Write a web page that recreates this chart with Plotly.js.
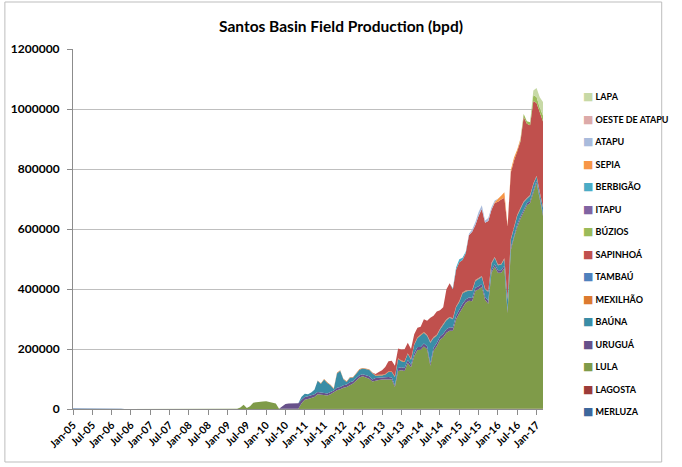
<!DOCTYPE html>
<html>
<head>
<meta charset="utf-8">
<script src="https://cdn.plot.ly/plotly-3.0.1.min.js"></script>
<style>
  body { margin: 0; background: #fff; }
  #chart { width: 682px; height: 467px; }
</style>
</head>
<body>
<div id="chart"></div>
<script>
// Month categories Jan-05 .. Mar-17
const monthNames = ['Jan','Feb','Mar','Apr','May','Jun','Jul','Aug','Sep','Oct','Nov','Dec'];
const yearCodes = ['05','06','07','08','09','10','11','12','13','14','15','16','17'];
const lastMonth = 'Mar-17';

const tickLabels = ['Jan-05','Jul-05','Jan-06','Jul-06','Jan-07','Jul-07','Jan-08','Jul-08',
    'Jan-09','Jul-09','Jan-10','Jul-10','Jan-11','Jul-11','Jan-12','Jul-12','Jan-13','Jul-13',
    'Jan-14','Jul-14','Jan-15','Jul-15','Jan-16','Jul-16','Jan-17'];

// Production per field, thousand bpd, monthly from the start month given
const merluzaStart = 'Jan-05';
const merluza = [1.8,1.9,2.0,1.9,1.8,2.1,2.0,1.9,1.7,1.8,1.6,1.5,1.4,1.5,1.3,1.2];

const lagostaStart = 'Jan-09';
const lagosta = [
    0.6,0.7,0.8,0.9,1.0,1.1,1.0,0.9,1.0,1.1,1.2,1.1,
    1.0,1.1,1.2,1.1,1.0,0.9,1.0,1.1,1.2,1.1,1.0,1.0,
    1.1,1.2,1.1,1.0,0.9,1.0,1.1,1.0,0.9,1.0,1.1,1.2,
    1.1,1.0,1.0,0.9,1.0,1.1,1.0,0.9,0.9,1.0,1.1,1.0,
    1.0,0.9,1.0,1.1,1.0,0.9,0.9,1.0,1.0,1.1,1.0,0.9,
    0.9,1.0,1.0,0.9,0.8,0.9,1.0,1.0,0.9,0.9,1.0,1.0,
    0.9,0.9,1.0,1.0,0.9,0.8,0.9,1.0,0.9,0.9,0.8,0.9,
    0.9,0.8,0.8,0.9,0.9,0.8,0.9,0.9,0.8,0.8,0.9,0.8,
    0.8,0.8,0.7];

const lulaStart = 'May-09';
const lula = [
    4,13,2,8,20,22,24,24,25,23,21,17,
    0,0,0,0,0,0,0,
    18,30,32,36,39,48,46,45,44,48,55,61,65,
    70,72,78,84,94,104,108,104,100,91,94,96,
    97,97,97,97,72,126,128,126,152,138,175,196,
    197,207,198,143,193,208,230,238,253,260,260,298,
    318,338,353,360,358,393,398,406,363,350,453,473,
    453,453,468,318,528,570,606,633,658,678,686,718,
    753,698,643];

const uruguaStart = 'Jun-10';
const urugua = [
    8,16,17,17,18,18,
    12,9,9,9,9,8,8,7,7,8,6,9,7,
    8,9,10,8,8,7,7,8,8,6,8,7,
    7,7,9,7,6,10,10,10,10,8,10,10,
    9,10,10,9,10,11,11,12,12,12,11,12,
    12,12,11,11,11,10,10,10,10,10,9,9,
    9,9,9,8,9,9,8,8,8,7,7,8,
    7,7,7];

const baunaStart = 'Dec-10';
const bauna = [
    10,11,7,9,15,37,29,45,35,22,5,47,54,
    20,8,15,12,16,19,19,20,22,21,8,8,
    7,10,16,18,28,30,20,20,21,17,28,30,
    40,36,35,68,33,24,22,28,30,31,27,28,
    26,34,27,22,24,23,25,23,25,30,21,21,
    16,18,21,37,26,25,29,25,22,15,17,22,
    14,15,20];

const mexilhaoStart = 'May-11';
const mexilhao = [
    1.5,2,2,2.5,2,2,2.5,2,
    2,2.5,2,2,2.5,2,2,2.5,2,2,2.5,2,
    2,2,2.5,2,2,2.5,2.5,2,2,2.5,2,2,
    2,2.5,2,2,2,2.5,2,2,2.5,2,2,2,
    2,2.5,2,2,2,2,2.5,2,2,2,2.5,2,
    2,2,2.5,2,2,2,2.5,2,2,2,2,2,
    2,2,2];

const tambauStart = 'Mar-14';
const tambau = [
    1,1,1,1.2,1.2,1,1,1,1.2,1,1,1,
    1,1,0.8,0.8,1,1,0.8,0.8,1,0.8,0.8,0.8,
    0.8,0.7,0.8,0.8,0.7,0.7,0.8,0.7,0.7,0.7,0.6,0.6,0.6];

const sapinhoaStart = 'Oct-12';
const sapinhoa = [
    1,3,9,
    15,23,34,36,35,32,37,40,35,33,33,32,
    25,43,47,80,71,77,62,57,100,112,97,122,
    129,108,124,182,194,184,207,224,219,233,177,180,
    209,215,202,242,222,221,210,222,282,247,232,275,
    243,263,285];

const buziosStart = 'Aug-16';
const buzios = [5,10,9,10,20,20,18,20];

const itapuStart = 'Jan-05';
const itapu = [];

const berbigaoStart = 'Nov-14';
const berbigao = [3,8,10,8,5];

const sepiaStart = 'Dec-15';
const sepia = [3,8,12,18,3,8,10,8,5];

const atapuStart = 'Apr-15';
const atapu = [5,8,10,12,12,8,10,8,5,2];

const oesteStart = 'Jan-05';
const oesteDeAtapu = [];

const lapaStart = 'Dec-16';
const lapa = [15,30,35,45];

// Stack order, bottom to top
const fieldNames = ['MERLUZA','LAGOSTA','LULA','URUGUÁ','BAÚNA','MEXILHÃO','TAMBAÚ','SAPINHOÁ',
    'BÚZIOS','ITAPU','BERBIGÃO','SEPIA','ATAPU','OESTE DE ATAPU','LAPA'];
const fieldColors = ['#3d679c','#9c3b39','#7f9b49','#67518a','#3a8da6','#dc7a30','#4f81bd','#c0504d',
    '#9bbb59','#8064a2','#4bacc6','#f79646','#a9bbdc','#dcaaa9','#c7d9a6'];

// Build the month list
const months = [];
yearCodes.forEach(y => monthNames.forEach(m => months.push(m + '-' + y)));
const categories = months.slice(0, months.indexOf(lastMonth) + 1);

function place(start, vals) {
    const first = categories.indexOf(start);
    return categories.map((_, i) => {
        const v = vals[i - first];
        return v === undefined ? 0 : v * 1000;
    });
}

const fieldSeries = [
    place(merluzaStart, merluza),
    place(lagostaStart, lagosta),
    place(lulaStart, lula),
    place(uruguaStart, urugua),
    place(baunaStart, bauna),
    place(mexilhaoStart, mexilhao),
    place(tambauStart, tambau),
    place(sapinhoaStart, sapinhoa),
    place(buziosStart, buzios),
    place(itapuStart, itapu),
    place(berbigaoStart, berbigao),
    place(sepiaStart, sepia),
    place(atapuStart, atapu),
    place(oesteStart, oesteDeAtapu),
    place(lapaStart, lapa)
];

const boldFont = { family: 'Lato, "Open Sans", sans-serif', weight: 'bold', color: '#000' };

const traces = [];
fieldSeries.forEach((ys, k) => {
    traces.push({
        x: categories,
        y: ys,
        type: 'scatter',
        mode: 'lines',
        stackgroup: 'fields',
        name: fieldNames[k],
        line: { width: 0, color: fieldColors[k] },
        fillcolor: fieldColors[k],
        showlegend: false,
        hoverinfo: 'x+y+name'
    });
});

// Legend entries with a small square swatch, top to bottom as in the original
for (let k = fieldNames.length - 1; k >= 0; k--) {
    traces.push({
        x: [null],
        y: [null],
        type: 'scatter',
        mode: 'markers',
        name: '<span style="color:' + fieldColors[k] + ';font-size:11px;font-family:DejaVu Sans">■</span> ' + fieldNames[k],
        legendgroup: 'g' + k,
        marker: { symbol: 'square', size: 0, opacity: 0, color: 'rgba(0,0,0,0)', line: { width: 0 } },
        showlegend: true
    });
}

const layout = {
    width: 682,
    height: 467,
    paper_bgcolor: '#fff',
    plot_bgcolor: '#fff',
    margin: { l: 73, r: 126, t: 49, b: 58 },
    title: {
        text: 'Santos Basin Field Production (bpd)',
        font: Object.assign({}, boldFont, { size: 15.5 }),
        x: 0.5,
        xref: 'container',
        y: 1 - 27 / 467,
        yanchor: 'middle'
    },
    xaxis: {
        type: 'category',
        range: [0, categories.length - 1],
        tickmode: 'array',
        tickvals: tickLabels,
        ticktext: tickLabels,
        tickangle: -45,
        ticks: 'outside',
        ticklen: 5,
        tickcolor: '#8c8c8c',
        showline: true,
        linecolor: '#8c8c8c',
        showgrid: false,
        zeroline: false,
        tickfont: Object.assign({}, boldFont, { size: 10.5 })
    },
    yaxis: {
        range: [0, 1200000],
        dtick: 200000,
        tickformat: 'd',
        ticks: 'outside',
        ticklen: 5,
        tickcolor: '#8c8c8c',
        showline: true,
        linecolor: '#8c8c8c',
        showgrid: true,
        gridcolor: '#bfbfbf',
        zeroline: false,
        ticklabelstandoff: 5,
        tickfont: Object.assign({}, boldFont, { size: 12 })
    },
    legend: {
        xref: 'container',
        yref: 'container',
        x: 543 / 682,
        xanchor: 'left',
        y: 1 - 82 / 467,
        yanchor: 'top',
        maxheight: 400,
        traceorder: 'grouped',
        tracegroupgap: 3.5,
        font: Object.assign({}, boldFont, { size: 9 }),
        bgcolor: 'rgba(0,0,0,0)'
    },
    shapes: [{
        type: 'rect',
        xref: 'paper', yref: 'paper',
        x0: (3 - 73) / 483, x1: (678 - 73) / 483,
        y0: (409 - 462) / 360, y1: (409 - 2) / 360,
        line: { color: '#bdbdbd', width: 1 },
        layer: 'below'
    }]
};

Plotly.newPlot('chart', traces, layout, { displayModeBar: false, responsive: false });
</script>
</body>
</html>
